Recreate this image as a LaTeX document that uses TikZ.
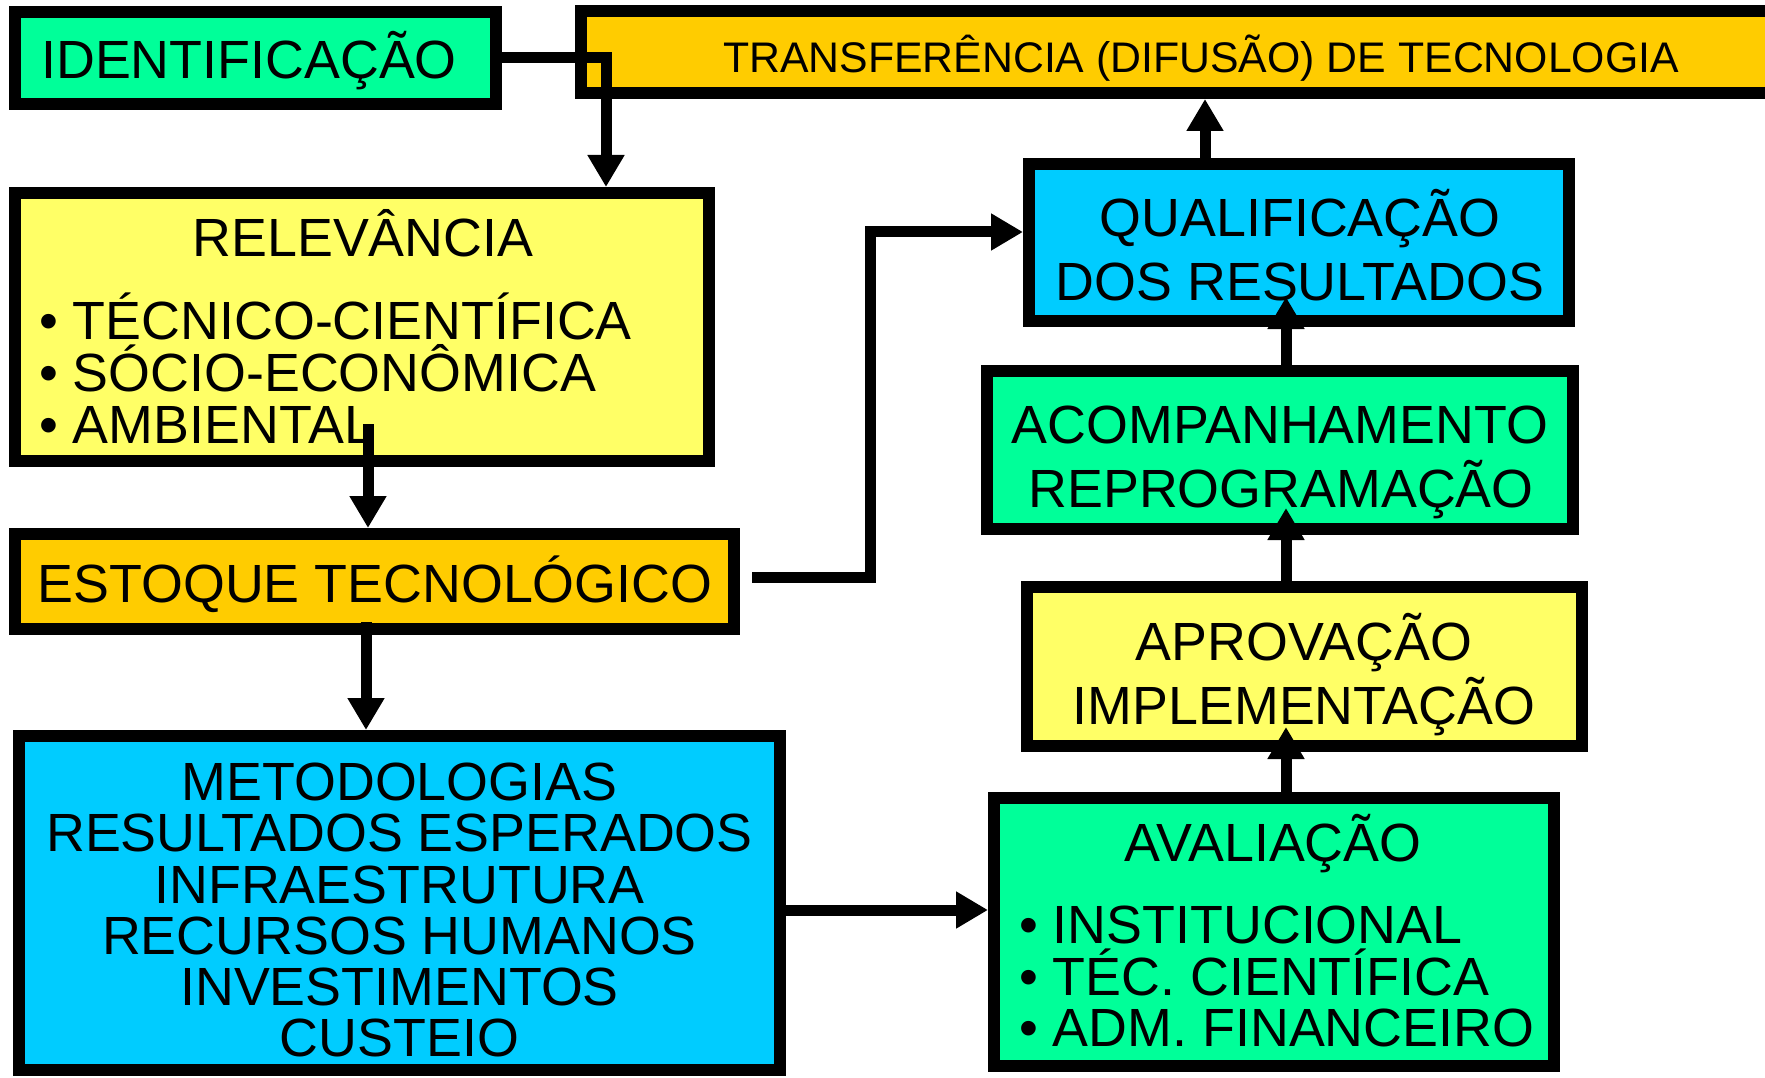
\documentclass[tikz,border=0pt]{standalone}
\usepackage{fontspec}
\setmainfont{Liberation Sans}
\usetikzlibrary{arrows.meta}
\definecolor{cgreen}{HTML}{00FF99}
\definecolor{corange}{HTML}{FFCC00}
\definecolor{cyellow}{HTML}{FFFF66}
\definecolor{ccyan}{HTML}{00CCFF}
\tikzset{
  box/.style={draw=black, line width=12pt, inner sep=0pt, rectangle},
  lbl/.style={anchor=base, inner sep=0pt, font=\fontsize{53.8}{53.8}\selectfont},
  lblw/.style={lbl, anchor=base west},
  conn/.style={line width=11pt, line join=miter, -{Triangle[width=35pt,length=32pt]}},
}
\begin{document}
\begin{tikzpicture}[x=1pt,y=-1pt]
\useasboundingbox (0,0) rectangle (1765,1078);
\clip (0,0) rectangle (1765,1078);
\fill[white] (0,0) rectangle (1765,1078);

% boxes
\node[box, fill=cgreen,  minimum width=481pt,  minimum height=92pt]  (ident)   at (255.5,58) {};
\node[box, fill=corange, minimum width=1213pt, minimum height=82pt]  (transf)  at (1187.5,52) {};
\node[box, fill=cyellow, minimum width=694pt,  minimum height=268pt] (relev)   at (362,327) {};
\node[box, fill=corange, minimum width=719pt,  minimum height=95pt]  (estoque) at (374.5,581.5) {};
\node[box, fill=ccyan,   minimum width=761pt,  minimum height=334pt] (metod)   at (399.5,903) {};
\node[box, fill=ccyan,   minimum width=540pt,  minimum height=157pt] (qual)    at (1299,242.5) {};
\node[box, fill=cgreen,  minimum width=586pt,  minimum height=158pt] (acomp)   at (1280,450) {};
\node[box, fill=cyellow, minimum width=555pt,  minimum height=159pt] (aprov)   at (1304.5,666.5) {};
\node[box, fill=cgreen,  minimum width=560pt,  minimum height=268pt] (aval)    at (1274,932) {};

% texts
\node[lbl] (t-ident) at (249,79) {IDENTIFICAÇÃO};
\node[lbl, font=\fontsize{42.8}{42.8}\selectfont] (t-transf) at (1201,73) {TRANSFERÊNCIA (DIFUSÃO) DE TECNOLOGIA};
\node[lbl] (t-relev) at (363,257) {RELEVÂNCIA};
\node[lblw] (t-relev1) at (39,339) {• TÉCNICO-CIENTÍFICA};
\node[lblw] (t-relev2) at (39,391) {• SÓCIO-ECONÔMICA};
\node[lblw] (t-relev3) at (39,443) {• AMBIENTAL};
\node[lbl] (t-estoque) at (375,602) {ESTOQUE TECNOLÓGICO};
\node[lbl] (t-metod1) at (399.5,800) {METODOLOGIAS};
\node[lbl] (t-metod2) at (399.5,851) {RESULTADOS ESPERADOS};
\node[lbl] (t-metod3) at (399.5,903) {INFRAESTRUTURA};
\node[lbl] (t-metod4) at (399.5,954) {RECURSOS HUMANOS};
\node[lbl] (t-metod5) at (399.5,1005) {INVESTIMENTOS};
\node[lbl] (t-metod6) at (399.5,1056) {CUSTEIO};
\node[lbl] (t-qual1) at (1300,237) {QUALIFICAÇÃO};
\node[lbl] (t-qual2) at (1300,300) {DOS RESULTADOS};
\node[lbl] (t-acomp1) at (1280,443) {ACOMPANHAMENTO};
\node[lbl] (t-acomp2) at (1281,507) {REPROGRAMAÇÃO};
\node[lbl] (t-aprov1) at (1304,660) {APROVAÇÃO};
\node[lbl] (t-aprov2) at (1304,724) {IMPLEMENTAÇÃO};
\node[lbl] (t-aval) at (1273,861) {AVALIAÇÃO};
\node[lblw] (t-aval1) at (1019,943) {• INSTITUCIONAL};
\node[lblw] (t-aval2) at (1019,995) {• TÉC. CIENTÍFICA};
\node[lblw] (t-aval3) at (1019,1046) {• ADM. FINANCEIRO};

% connectors
\coordinate (k1) at (606,0);
\draw[conn] (ident.east) -| (k1 |- relev.north);
\coordinate (r1) at (368,424);
\draw[conn] (r1) -- (r1 |- estoque.north);
\coordinate (e2) at (366,622);
\draw[conn] (e2) -- (e2 |- metod.north);
\coordinate (e1) at (752,577);
\coordinate (k2) at (870,232);
\draw[conn] (e1) -| (k2) -- (k2 -| qual.west);
\coordinate (k3) at (1205,0);
\draw[conn] (k3 |- qual.north) -- (k3 |- transf.south);
\coordinate (q1) at (1286,297);
\draw[conn] (q1 |- acomp.north) -- (q1);
\coordinate (a1) at (1286,508);
\draw[conn] (a1 |- aprov.north) -- (a1);
\coordinate (p1) at (1286,727);
\draw[conn] (p1 |- aval.north) -- (p1);
\coordinate (k5) at (0,910);
\draw[conn] (k5 -| metod.east) -- (k5 -| aval.west);
\end{tikzpicture}
\end{document}
